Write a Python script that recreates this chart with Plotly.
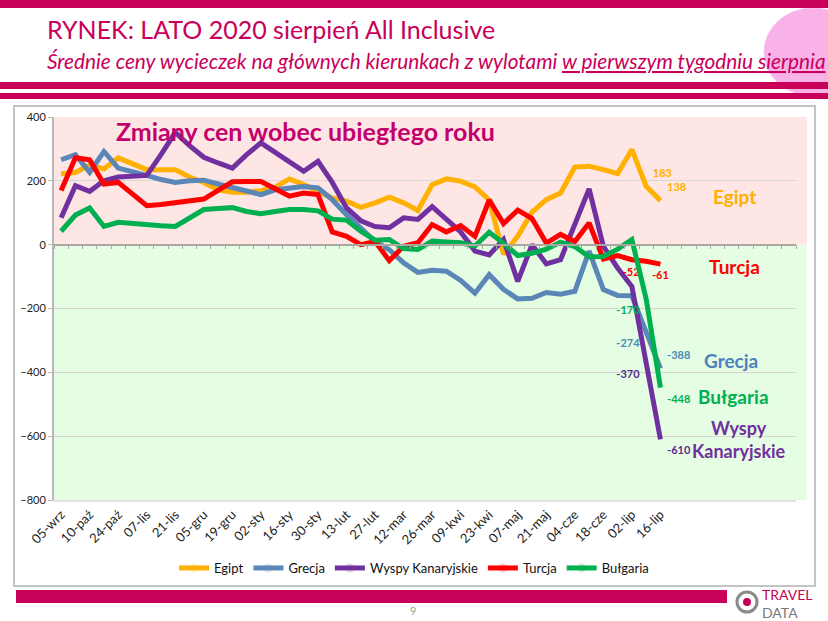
import plotly.graph_objects as go

# ---------------- data ----------------
categories = ["05-wrz", "03-paź", "10-paź", "17-paź", "24-paź", "31-paź", "07-lis", "14-lis",
              "21-lis", "28-lis", "05-gru", "12-gru", "19-gru", "26-gru", "02-sty", "09-sty",
              "16-sty", "23-sty", "30-sty", "06-lut", "13-lut", "20-lut", "27-lut", "05-mar",
              "12-mar", "19-mar", "26-mar", "02-kwi", "09-kwi", "16-kwi", "23-kwi", "30-kwi",
              "07-maj", "14-maj", "21-maj", "28-maj", "04-cze", "11-cze", "18-cze", "25-cze",
              "02-lip", "09-lip", "16-lip"]

egipt = [222, 226, 250, 237, 272, 255, 235, 235, 235, 212, 195, 172, 164, 164, 169, 180,
         206, 188, 168, 146, 136, 117, 131, 149, 131, 107, 188, 206, 199, 181, 140, -30,
         26, 102, 141, 162, 243, 246, 235, 223, 298, 183, 138]
grecja = [266, 282, 227, 292, 240, 230, 217, 204, 195, 200, 202, 190, 178, 167, 157, 172,
          178, 182, 178, 141, 94, 50, 10, -16, -57, -87, -80, -83, -112, -152, -94, -140,
          -170, -168, -150, -155, -146, -20, -141, -159, -160, -274, -388]
wyspy = [84, 185, 167, 200, 212, 216, 217, 282, 352, 310, 274, 256, 240, 282, 319, 289,
         258, 230, 261, 195, 115, 75, 57, 53, 84, 79, 119, 82, 40, -20, -32, 16,
         -115, 0, -60, -47, 64, 175, -5, -73, -131, -370, -610]
turcja = [170, 272, 266, 190, 195, 160, 122, 126, 131, 137, 143, 170, 197, 198, 198, 175,
          152, 162, 157, 40, 26, 0, 10, -50, -5, 6, 63, 40, 60, 26, 140, 66,
          108, 82, 5, 32, 10, 68, -45, -34, -47, -52, -61]
bulgaria = [42, 93, 115, 57, 70, 66, 60, 59, 57, 84, 110, 113, 116, 104, 97, 104,
            110, 110, 106, 80, 77, 42, 14, 16, -12, -15, 11, 8, 6, -4, 39, 4,
            -34, -27, -14, 8, -6, -38, -37, -14, 16, -170, -448]

series_names = ["Egipt", "Grecja", "Wyspy Kanaryjskie", "Turcja", "Bułgaria"]
series_values = [egipt, grecja, wyspy, turcja, bulgaria]

y_ticks = [400, 200, 0, -200, -400, -600, -800]

# ---------------- styling ----------------
W, H = 828, 621
ML, MR, MT, MB = 54, 32, 117, 121
PW, PH = W - ML - MR, H - MT - MB
N_SLOTS = 52          # category slots on the axis (last ones empty)
Y_MIN, Y_MAX = -800, 400

MAGENTA = "#C8005A"
FONT = "Lato"

line_colors = ["#FFB000", "#5A86B8", "#7030A0", "#FF0000", "#00B050"]
label_colors = ["#FFB000", "#4A8AB5", "#5B2C8E", "#FF0000", "#00B050"]
label_pos = [["top right", "top right"],
             ["bottom left", "top right"],
             ["bottom left", "bottom right"],
             ["bottom left", "bottom center"],
             ["bottom left", "bottom right"]]


def fx(px):
    return (px - ML) / PW


def fy(py):
    return (H - MB - py) / PH


x_idx = list(range(len(categories)))

fig = go.Figure()
for name, vals, col, lcol, pos in zip(series_names, series_values, line_colors, label_colors, label_pos):
    n = len(vals)
    texts = [""] * (n - 2) + [f"<b>{v}</b>" for v in vals[-2:]]
    tpos = ["top right"] * (n - 2) + pos
    fig.add_trace(go.Scatter(
        x=x_idx, y=vals, name=name, mode="lines+markers+text",
        line=dict(color=col, width=5),
        marker=dict(size=9, opacity=0, color=col),
        text=texts, textposition=tpos,
        textfont=dict(color=lcol, size=11, family=FONT),
        cliponaxis=False,
    ))

# helper trace for the zero-line axis with tick marks
fig.add_trace(go.Scatter(x=[], y=[], xaxis="x2", showlegend=False, hoverinfo="skip"))

shapes = [
    # globe decoration
    dict(type="circle", xref="paper", yref="paper", x0=fx(764), x1=fx(862), y0=fy(96), y1=fy(8),
         fillcolor="#F8B2E8", line=dict(color="#F3C6EE", width=1), layer="below"),
    # background bands
    dict(type="rect", xref="paper", yref="y", x0=0, x1=fx(807), y0=0, y1=Y_MAX,
         fillcolor="#FDE6E3", line=dict(width=0), layer="below"),
    dict(type="rect", xref="paper", yref="y", x0=0, x1=fx(807), y0=Y_MIN, y1=0,
         fillcolor="#E5FDE3", line=dict(width=0), layer="below"),
    # chart frame
    dict(type="rect", xref="paper", yref="paper", x0=fx(14), x1=fx(815), y0=fy(586), y1=fy(106),
         line=dict(color="#C4C4C4", width=2), layer="below"),
    # header bars
    dict(type="rect", xref="paper", yref="paper", x0=fx(0), x1=fx(W), y0=fy(8), y1=fy(0),
         fillcolor=MAGENTA, line=dict(width=0), layer="below"),
    dict(type="rect", xref="paper", yref="paper", x0=fx(0), x1=fx(W), y0=fy(89), y1=fy(82),
         fillcolor=MAGENTA, line=dict(width=0), layer="below"),
    dict(type="rect", xref="paper", yref="paper", x0=fx(0), x1=fx(W), y0=fy(99), y1=fy(93),
         fillcolor=MAGENTA, line=dict(width=0), layer="below"),
    # footer bar
    dict(type="rect", xref="paper", yref="paper", x0=fx(16), x1=fx(727), y0=fy(603), y1=fy(590),
         fillcolor=MAGENTA, line=dict(width=0), layer="below"),
    # logo circles
    dict(type="circle", xref="paper", yref="paper", x0=fx(737), x1=fx(757), y0=fy(612), y1=fy(592),
         fillcolor="rgba(0,0,0,0)", line=dict(color="#8A8A8A", width=3)),
    dict(type="circle", xref="paper", yref="paper", x0=fx(743), x1=fx(751), y0=fy(606), y1=fy(598),
         fillcolor=MAGENTA, line=dict(width=0)),
]


def ann(text, x, y, size, color, yref="paper", xanchor="center", **kw):
    return dict(text=text, xref="paper", yref=yref, x=x, y=y, xanchor=xanchor,
                yanchor="middle", showarrow=False,
                font=dict(family=FONT, size=size, color=color), **kw)


annotations = [
    ann("RYNEK: LATO 2020 sierpień All Inclusive", fx(45), fy(29), 25, MAGENTA, xanchor="left"),
    ann("<i>Średnie ceny wycieczek na głównych kierunkach z wylotami "
        "<span style='text-decoration:underline'>w pierwszym tygodniu sierpnia</span></i>",
        fx(45), fy(61), 20.8, MAGENTA, xanchor="left"),
    ann("<b>Zmiany cen wobec ubiegłego roku</b>", fx(114), fy(131), 25, "#C2006E", xanchor="left"),
    ann("<b>Egipt</b>", fx(734), 150, 19, "#FFB000", yref="y"),
    ann("<b>Turcja</b>", fx(734), -68, 19, "#FF0000", yref="y"),
    ann("<b>Grecja</b>", fx(731), -362, 19, "#4F81BD", yref="y"),
    ann("<b>Bułgaria</b>", fx(733), -476, 19, "#00B050", yref="y"),
    ann("<b>Wyspy<br>Kanaryjskie</b>", fx(739), -610, 18, "#7030A0", yref="y"),
    ann("9", fx(413), fy(610), 11, "#A0A0A0"),
    ann(f"<span style='color:{MAGENTA}'>TRAVEL</span><br><span style='color:#7A7A7A'>DATA</span>",
        fx(760), fy(603), 14, MAGENTA, xanchor="left", align="left"),
]

fig.update_layout(
    width=W, height=H,
    margin=dict(l=ML, r=MR, t=MT, b=MB, autoexpand=False),
    paper_bgcolor="white", plot_bgcolor="rgba(0,0,0,0)",
    font=dict(family=FONT, color="#222222"),
    showlegend=True,
    legend=dict(orientation="h", x=fx(414), xanchor="center", y=fy(568), yanchor="middle",
                font=dict(family=FONT, size=13, color="#111111"), bgcolor="rgba(0,0,0,0)",
                itemwidth=30, tracegroupgap=0),
    xaxis=dict(range=[-0.5, N_SLOTS - 0.5], tickmode="array", tickvals=x_idx[::2],
               ticktext=categories[::2], tickangle=-45, showgrid=False, zeroline=False,
               showline=True, linecolor="#E2E2E2", linewidth=2, ticks="",
               tickfont=dict(family=FONT, size=13, color="#222222")),
    xaxis2=dict(overlaying="x", anchor="free", position=(0 - Y_MIN) / (Y_MAX - Y_MIN),
                range=[-0.5, N_SLOTS - 0.5], tickmode="array",
                tickvals=[i - 0.5 for i in range(N_SLOTS + 1)], showticklabels=False,
                ticks="outside", ticklen=4, tickcolor="#A8A8A0", tickwidth=1,
                showline=True, linecolor="#A8A8A0", linewidth=1.5,
                showgrid=False, zeroline=False),
    yaxis=dict(range=[Y_MIN, Y_MAX], tickmode="array", tickvals=y_ticks,
               showgrid=True, gridcolor="#D6D6D6", gridwidth=1, zeroline=False,
               showline=True, linecolor="#B8B8B8", linewidth=2,
               ticks="outside", ticklen=4, tickcolor="#B8B8B8",
               tickfont=dict(family=FONT, size=11, color="#222222")),
    shapes=shapes,
    annotations=annotations,
)

fig.write_html("out.html")
